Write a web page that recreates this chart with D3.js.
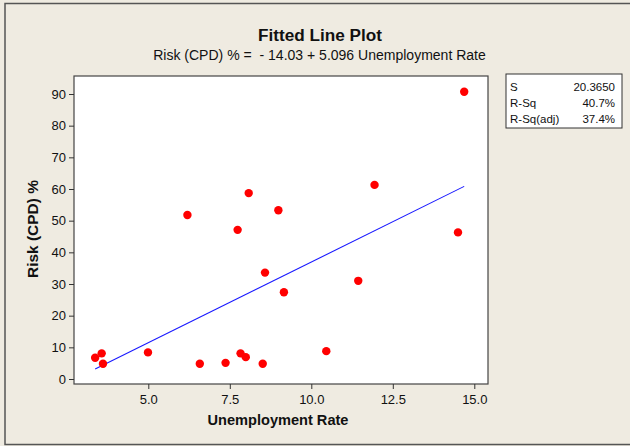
<!DOCTYPE html>
<html>
<head>
<meta charset="utf-8">
<script src="https://cdn.jsdelivr.net/npm/d3@7"></script>
<style>
  html, body { margin: 0; padding: 0; background: #efebe1; }
  svg { display: block; }
  text { font-family: "Liberation Sans", Arial, sans-serif; fill: #111; }
</style>
</head>
<body>
<svg id="chart" width="630" height="446"></svg>
<script>
// ---- data ----
const unemployment = [3.37, 3.57, 3.61, 4.99, 6.20, 6.58, 7.37, 7.74, 7.83, 7.99,
                      8.08, 8.51, 8.58, 8.99, 9.16, 10.46, 11.44, 11.94, 14.50, 14.69];
const risk = [6.7, 8.1, 4.8, 8.4, 51.8, 4.8, 5.1, 47.1, 8.1, 6.9,
              58.7, 4.8, 33.6, 53.3, 27.4, 8.8, 31.0, 61.3, 46.3, 90.7];
const fitIntercept = -14.03;
const fitSlope = 5.096;
const xTicks = [5.0, 7.5, 10.0, 12.5, 15.0];
const yTicks = [0, 10, 20, 30, 40, 50, 60, 70, 80, 90];
const statLabels = ["S", "R-Sq", "R-Sq(adj)"];
const statValues = ["20.3650", "40.7%", "37.4%"];
const titleText = "Fitted Line Plot";
const subtitleText = "Risk (CPD) % =  - 14.03 + 5.096 Unemployment Rate";
const xTitle = "Unemployment Rate";
const yTitle = "Risk (CPD) %";

// ---- layout ----
const svg = d3.select("#chart");
const plot = { left: 74, top: 76, right: 488, bottom: 384 };

// outer frame
svg.append("rect").attr("x", 5).attr("y", 3.5).attr("width", 640).attr("height", 441)
  .attr("fill", "#efebe1").attr("stroke", "#555").attr("stroke-width", 1.5);

const x = d3.scaleLinear().domain([5, 15]).range([148.3, 474.3]);
const y = d3.scaleLinear().domain([0, 90]).range([379, 94]);

// plot background
svg.append("rect").attr("x", plot.left).attr("y", plot.top)
  .attr("width", plot.right - plot.left).attr("height", plot.bottom - plot.top)
  .attr("fill", "#fff").attr("stroke", "#444").attr("stroke-width", 1.2);

function fitWidth(sel, target) {
  const node = sel.node();
  const fs = parseFloat(sel.attr("font-size"));
  const w = node.getComputedTextLength();
  if (w > 0) sel.attr("font-size", (fs * target / w).toFixed(2));
  return sel;
}

// axes
const xAxis = d3.axisBottom(x).tickValues(xTicks).tickFormat(d3.format(".1f")).tickSize(5).tickSizeOuter(0);
const gx = svg.append("g").attr("transform", `translate(0,${plot.bottom})`).call(xAxis);
gx.select(".domain").remove();
gx.selectAll("line").attr("stroke", "#333");
gx.selectAll("text").attr("font-size", 13).attr("dy", "0.9em").style("font-family", "Liberation Sans, Arial, sans-serif").attr("fill", "#111");

const yAxis = d3.axisLeft(y).tickValues(yTicks).tickSize(5).tickSizeOuter(0);
const gy = svg.append("g").attr("transform", `translate(${plot.left},0)`).call(yAxis);
gy.select(".domain").remove();
gy.selectAll("line").attr("stroke", "#333");
gy.selectAll("text").attr("font-size", 13).attr("x", -8).style("font-family", "Liberation Sans, Arial, sans-serif").attr("fill", "#111");

// fitted line
const xmin = d3.min(unemployment), xmax = d3.max(unemployment);
svg.append("line")
  .attr("x1", x(xmin)).attr("y1", y(fitIntercept + fitSlope * xmin))
  .attr("x2", x(xmax)).attr("y2", y(fitIntercept + fitSlope * xmax))
  .attr("stroke", "#1a1aff").attr("stroke-width", 1.1);

// points
svg.append("g").selectAll("circle").data(unemployment).join("circle")
  .attr("cx", d => x(d)).attr("cy", (d, i) => y(risk[i])).attr("r", 4.2)
  .attr("fill", "#ff0000");

// titles
const t = svg.append("text").attr("x", 320).attr("y", 41).attr("text-anchor", "middle")
  .attr("font-size", 17).attr("font-weight", "bold").text(titleText);
fitWidth(t, 124);
const st = svg.append("text").attr("x", 319.5).attr("y", 59.5).attr("text-anchor", "middle")
  .attr("font-size", 14).style("white-space", "pre").attr("xml:space", "preserve").text(subtitleText);
fitWidth(st, 333);

const xt = svg.append("text").attr("x", 278).attr("y", 425).attr("text-anchor", "middle")
  .attr("font-size", 14).attr("font-weight", "bold").text(xTitle);
fitWidth(xt, 141);
const yt = svg.append("text").attr("transform", "translate(38,229) rotate(-90)").attr("text-anchor", "middle")
  .attr("font-size", 14).attr("font-weight", "bold").text(yTitle);
fitWidth(yt, 98);

// stats box
const box = { x: 506, y: 74, w: 116, h: 54, firstBase: 91, rowH: 16 };
svg.append("rect").attr("x", box.x).attr("y", box.y).attr("width", box.w).attr("height", box.h)
  .attr("fill", "#fff").attr("stroke", "#333").attr("stroke-width", 1);
const rows = svg.append("g").selectAll("g").data(statLabels).join("g")
  .attr("transform", (d, i) => `translate(${box.x},${box.firstBase + i * box.rowH})`);
rows.append("text").attr("x", 4).attr("y", 0).attr("font-size", 11.5).text(d => d);
rows.append("text").attr("x", box.w - 7).attr("y", 0).attr("font-size", 11.5).attr("text-anchor", "end")
  .text((d, i) => statValues[i]);
</script>
</body>
</html>
